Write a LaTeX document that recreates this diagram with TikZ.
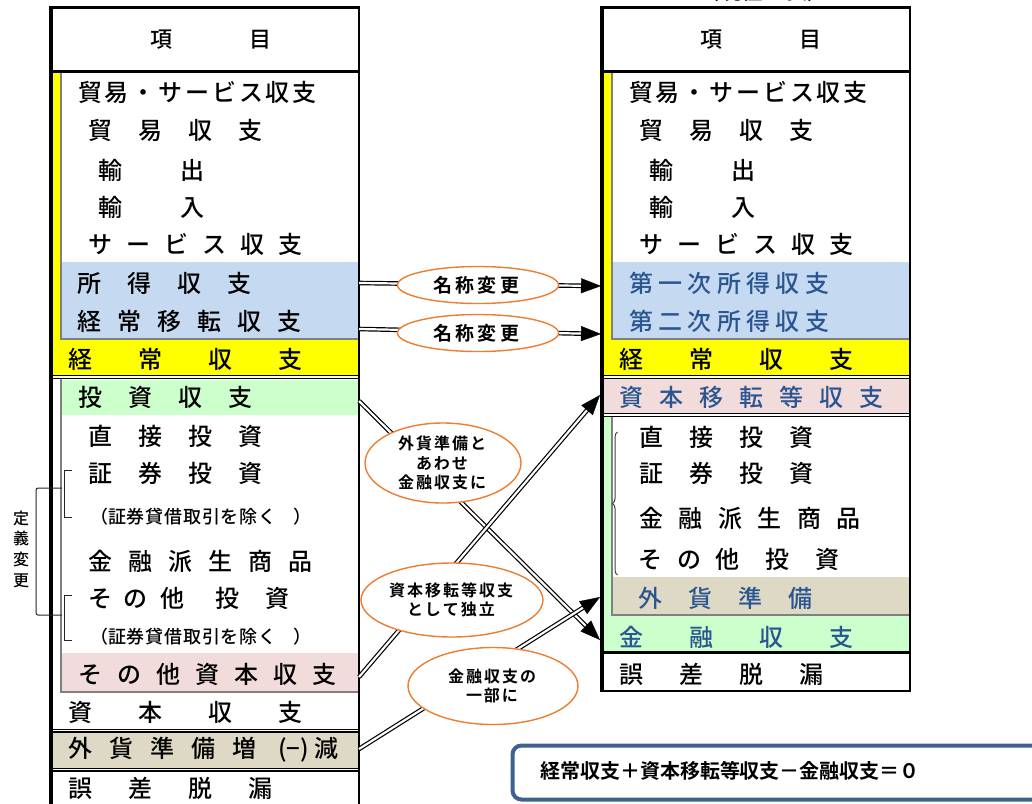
\documentclass[tikz,border=0pt]{standalone}
\usepackage{fontspec}
\setmainfont{Noto Sans CJK JP Medium}
\newfontfamily\bcjk{Noto Sans CJK JP Bold}
\usetikzlibrary{arrows.meta,calc,decorations.pathreplacing,shapes.geometric}
\definecolor{cyellow}{HTML}{FFFF00}
\definecolor{cblue}{HTML}{C5D9F1}
\definecolor{cgreen}{HTML}{CCFFCC}
\definecolor{cpink}{HTML}{F2DCDB}
\definecolor{ctan}{HTML}{DDD9C4}
\definecolor{ctxt}{HTML}{2B5591}
\definecolor{corange}{HTML}{ED7D31}
\definecolor{cframe}{HTML}{3E628F}
\definecolor{cgray}{HTML}{808080}
\newcommand\spacedpitch{}
\def\spacedloop#1{\ifx#1\relax\else\makebox[\spacedpitch][l]{#1}\expandafter\spacedloop\fi}
\newcommand\spaced[2]{\def\spacedpitch{#1}\spacedloop#2\relax}
\newcommand\dblarrow[2]{\draw[conn] (#1) -- (#2); \draw[tip] ($(#2)!20pt!(#1)$) -- (#2);}
\newcommand\jogai{（\spaced{18.8pt}{証券貸借取引を除く}\hspace{16pt}）}
\begin{document}
\begin{tikzpicture}[x=1pt,y=-1pt,
  item/.style={anchor=west, inner sep=0pt, font=\fontsize{24}{26}\selectfont},
  sm/.style={anchor=west, inner sep=0pt, font=\fontsize{18}{20}\selectfont},
  hdr/.style={inner sep=0pt, font=\fontsize{22}{24}\selectfont},
  btxt/.style={text=ctxt},
  dline/.style={double, line width=1.2pt, double distance=1.6pt},
  gline/.style={cgray, line width=1.8pt},
  conn/.style={double, line width=1.2pt, double distance=2.2pt, shorten >=18pt},
  tip/.style={-{Triangle[length=20pt,width=15pt]}, line width=0.4pt},
  lab/.style={ellipse, draw=corange, line width=1.4pt, fill=white, inner sep=0pt, align=center, font=\bcjk\fontsize{16}{19.5}\selectfont},
  brk/.style={line width=1pt, black!85}
]
\useasboundingbox (0,0) rectangle (1032,803);
\clip (0,0) rectangle (1032,803);
% ---------- left table fills
\fill[cyellow] (53,73) rectangle (357.5,375.5);
\fill[white] (61,73) rectangle (357.5,339);
\fill[cblue] (61,262) rectangle (357.5,339);
\fill[cgreen] (61,380) rectangle (357.5,415);
\fill[cpink] (61,653) rectangle (357.5,692);
\fill[ctan] (53,732) rectangle (357.5,767.5);
\draw[gline] (61,73) -- (61,339) -- (357.5,339);
\draw[gline] (61,379) -- (61,692) -- (357.5,692);
\draw[line width=2.5pt] (51,71.5) -- (359,71.5);
\draw[dline] (51,377) -- (359,377);
\draw[dline] (51,730.5) -- (359,730.5);
\draw[dline] (51,769.5) -- (359,769.5);
\draw[line width=2.5pt] (51,7.5) rectangle (359,830);
\draw[line width=4pt] (51,6.25) -- (51,830);
% ---------- right table fills
\fill[cyellow] (604,73) rectangle (908.5,375.5);
\fill[white] (612,73) rectangle (908.5,339);
\fill[cblue] (612,262) rectangle (908.5,339);
\draw[gline] (612,73) -- (612,339) -- (908.5,339);
\fill[cpink] (604,379) rectangle (908.5,413);
\fill[cgreen] (604,417) rectangle (908.5,651);
\fill[white] (612,417) rectangle (908.5,615);
\fill[ctan] (612,577) rectangle (908.5,615);
\draw[gline] (612,417) -- (612,615) -- (908.5,615);
\draw[line width=2.5pt] (602,71.5) -- (910,71.5);
\draw[dline] (602,377) -- (910,377);
\draw[dline] (602,415) -- (910,415);
\draw[line width=3pt] (602,652.5) -- (910,652.5);
\draw[line width=2.5pt] (602,7.5) rectangle (910,691);
\draw[line width=4pt] (602,6.25) -- (602,692.25);
% ---------- title (cut off at the top edge, as in the reference)
\node[hdr] (title) at (763,-9) {（現在の表）};
% ---------- left texts
\node[hdr] (Lh) at (210.5,40) {項\hspace{77pt}目};
\node[item] (L1) at (78,92) {\spaced{26.8pt}{貿易・サービス収支}};
\node[item] (L2) at (88,130) {\spaced{50pt}{貿易収支}};
\node[item] (L3) at (98,170) {\spaced{82pt}{輸出}};
\node[item] (L4) at (98,207) {\spaced{82pt}{輸入}};
\node[item] (L5) at (88,244) {\spaced{38pt}{サービス収支}};
\node[item] (L6) at (77,283) {\spaced{50pt}{所得収支}};
\node[item] (L7) at (77,321) {\spaced{40pt}{経常移転収支}};
\node[item] (L8) at (68,359) {\spaced{70pt}{経常収支}};
\node[item] (L9) at (78,397) {\spaced{50pt}{投資収支}};
\node[item] (L10) at (88,436) {\spaced{50pt}{直接投資}};
\node[item] (L11) at (88,473) {\spaced{50pt}{証券投資}};
\node[sm] (L12) at (90,517) {\jogai};
\node[item] (L13) at (88,561) {\spaced{40pt}{金融派生商品}};
\node[item] (L14) at (88,598) {\makebox[35pt][l]{そ}\makebox[37pt][l]{の}\makebox[55pt][l]{他}\makebox[50pt][l]{投}資};
\node[sm] (L15) at (90,637) {\jogai};
\node[item] (L16) at (78,674) {\spaced{39pt}{その他資本収支}};
\node[item] (L17) at (68,712) {\spaced{70pt}{資本収支}};
\node[item] (L18) at (68,750) {\spaced{41pt}{外貨準備増}\makebox[41pt][c]{(−)}減};
\node[item] (L19) at (68,788) {\spaced{60pt}{誤差脱漏}};
% ---------- right texts
\node[hdr] (Rh) at (761,40) {項\hspace{77pt}目};
\node[item] (R1) at (629,92) {\spaced{26.8pt}{貿易・サービス収支}};
\node[item] (R2) at (639,130) {\spaced{50pt}{貿易収支}};
\node[item] (R3) at (649,170) {\spaced{82pt}{輸出}};
\node[item] (R4) at (649,207) {\spaced{82pt}{輸入}};
\node[item] (R5) at (639,244) {\spaced{38pt}{サービス収支}};
\node[item,btxt] (R6) at (629,283) {\spaced{29.3pt}{第一次所得収支}};
\node[item,btxt] (R7) at (629,321) {\spaced{29.3pt}{第二次所得収支}};
\node[item] (R8) at (619,359) {\spaced{70pt}{経常収支}};
\node[item,btxt] (R9) at (619,397) {\spaced{40pt}{資本移転等収支}};
\node[item] (R10) at (639,437) {\spaced{50pt}{直接投資}};
\node[item] (R11) at (639,473) {\spaced{50pt}{証券投資}};
\node[item] (R12) at (639,518) {\spaced{39.5pt}{金融派生商品}};
\node[item] (R13) at (638,559) {\makebox[39pt][l]{そ}\makebox[38pt][l]{の}\makebox[50pt][l]{他}\makebox[50pt][l]{投}資};
\node[item,btxt] (R14) at (638,598) {\spaced{50pt}{外貨準備}};
\node[item,btxt] (R15) at (619,637) {\spaced{70pt}{金融収支}};
\node[item] (R16) at (619,674) {\spaced{60pt}{誤差脱漏}};
% ---------- brackets
\draw[brk] (72,470) -- (64,470) -- (64,517) -- (72,517);
\draw[brk] (72,595) -- (64,595) -- (64,640) -- (72,640);
\draw[brk, rounded corners=2pt] (62,488) -- (36,488) -- (36,615) -- (62,615);
\node[inner sep=0pt, align=center, font=\fontsize{16}{20.7}\selectfont] (teigi) at (21,549) {定\\義\\変\\更};
\draw[black!75, line width=1pt, decorate, decoration={brace, amplitude=5pt}] (617.5,575) -- (617.5,432);
% ---------- connectors
\coordinate (a1s) at (359,283); \coordinate (a1e) at (601,286);
\coordinate (a2s) at (359,329); \coordinate (a2e) at (601,334);
\coordinate (a3s) at (359,401); \coordinate (a3e) at (600,640);
\coordinate (a4s) at (359,677); \coordinate (a4e) at (600,395);
\coordinate (a5s) at (359,749); \coordinate (a5e) at (600,597);
\dblarrow{a1s}{a1e}
\dblarrow{a2s}{a2e}
\dblarrow{a3s}{a3e}
\dblarrow{a4s}{a4e}
\dblarrow{a5s}{a5e}
% ---------- labels
\node[lab, minimum width=161pt, minimum height=37pt] (e1) at (478,285) {\fontsize{19}{20}\selectfont\spaced{22.5pt}{名称変更}};
\node[lab, minimum width=161pt, minimum height=37pt] (e2) at (478,333) {\fontsize{19}{20}\selectfont\spaced{22.5pt}{名称変更}};
\node[lab, minimum width=156pt, minimum height=80pt] (e3) at (443,463) {\spaced{18pt}{外貨準備と}\\\spaced{18pt}{あわせ}\\\spaced{18pt}{金融収支に}};
\node[lab, minimum width=182pt, minimum height=74pt] (e4) at (452,600) {\spaced{18pt}{資本移転等収支}\\\spaced{18pt}{として独立}};
\node[lab, minimum width=170pt, minimum height=77pt] (e5) at (493,686) {\spaced{18pt}{金融収支の}\\\spaced{18pt}{一部に}};
% ---------- formula
\draw[cframe, line width=4pt, rounded corners=9pt] (512.5,745.5) rectangle (1060,799.5);
\node[inner sep=0pt, font=\bcjk\fontsize{20}{22}\selectfont] (eq) at (730,771) {\spaced{19.9pt}{経常収支＋資本移転等収支－金融収支＝０}};
\end{tikzpicture}
\end{document}
